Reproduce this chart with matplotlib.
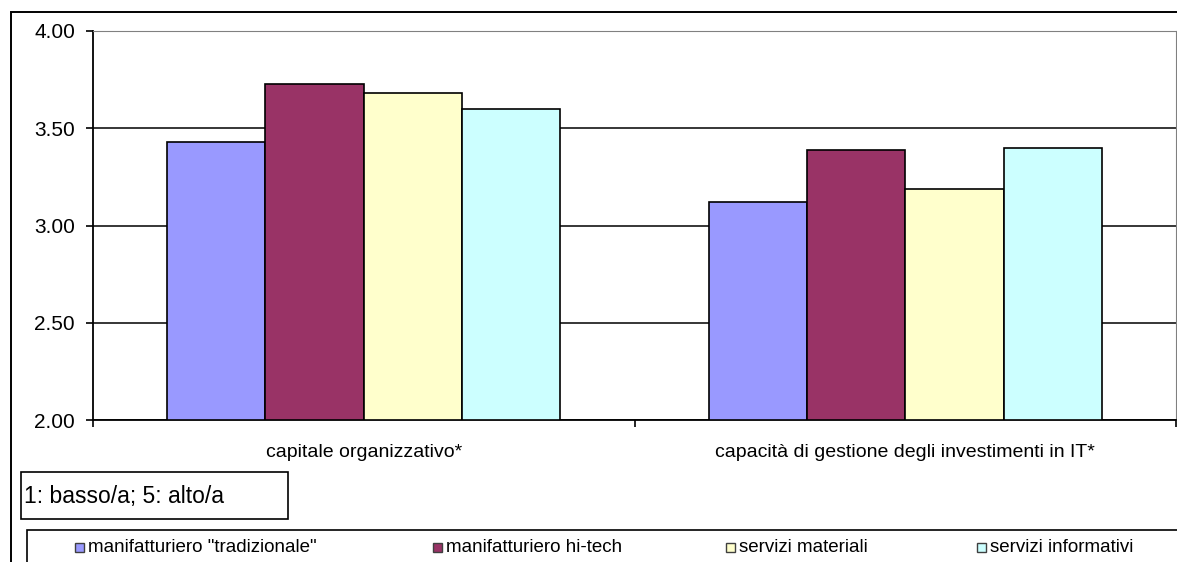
import matplotlib
matplotlib.use('Agg')
import matplotlib.pyplot as plt
from matplotlib.patches import Rectangle
import numpy as np

plt.rcParams['font.family'] = ['Liberation Sans', 'DejaVu Sans']

# dati: punteggio medio (1: basso/a, 5: alto/a)
categorie = ['capitale organizzativo*', 'capacità di gestione degli investimenti in IT*']
settori = ['manifatturiero "tradizionale"', 'manifatturiero hi-tech',
           'servizi materiali', 'servizi informativi']
valori = {
    'manifatturiero "tradizionale"': [3.43, 3.12],
    'manifatturiero hi-tech': [3.73, 3.39],
    'servizi materiali': [3.68, 3.19],
    'servizi informativi': [3.60, 3.40],
}
colori = ['#9999FF', '#993366', '#FFFFCC', '#CCFFFF']
y_ticks = [2.00, 2.50, 3.00, 3.50, 4.00]

W, H = 1177, 562
fig = plt.figure(figsize=(W / 100, H / 100), dpi=100)

def fx(px):
    return px / W

def fy(py):
    return 1 - py / H

ax = fig.add_axes([fx(93), fy(420), fx(1176) - fx(93), fy(31) - fy(420)])

x = np.arange(len(categorie))
w = 0.1815
for i, s in enumerate(settori):
    ax.bar(x + (i - 1.5) * w, np.array(valori[s]) - 2.0, bottom=2.0, width=w,
           color=colori[i], edgecolor='black', linewidth=1.2, align='center', zorder=3)

ax.set_xlim(-0.5, len(categorie) - 0.5)
ax.set_ylim(2.0, 4.0)
ax.set_yticks(y_ticks)
ax.set_yticklabels([f'{v:.2f}' for v in y_ticks], fontsize=15)
ax.yaxis.grid(True, color='black', linewidth=1.1, zorder=0)
ax.set_axisbelow(True)

# tacche ai confini delle categorie, etichette al centro
ax.set_xticks(np.arange(-0.5, len(categorie), 1.0))
ax.set_xticklabels([])
ax.set_xticks(x, minor=True)
ax.set_xticklabels(categorie, minor=True, fontsize=14)
ax.tick_params(axis='x', which='major', direction='out', length=5, width=1.2, color='black')
ax.tick_params(axis='x', which='minor', length=0, pad=17)
ax.tick_params(axis='y', direction='out', length=5, width=1.2, pad=8)

ax.spines['left'].set_linewidth(1.3)
ax.spines['bottom'].set_linewidth(1.3)
ax.spines['top'].set_color('#808080')
ax.spines['right'].set_color('#808080')

# bordo esterno del grafico
fig.patches.append(Rectangle((fx(11), fy(600)), fx(1200) - fx(11), fy(12) - fy(600),
                             transform=fig.transFigure, fill=False,
                             edgecolor='black', linewidth=1.4))

# nota sulla scala
fig.patches.append(Rectangle((fx(21), fy(519)), fx(288) - fx(21), fy(472) - fy(519),
                             transform=fig.transFigure, fill=False,
                             edgecolor='black', linewidth=1.2))
fig.text(fx(24), fy(496), '1: basso/a; 5: alto/a', fontsize=16.5, va='center', ha='left')

# legenda
fig.patches.append(Rectangle((fx(27), fy(600)), fx(1200) - fx(27), fy(530) - fy(600),
                             transform=fig.transFigure, fill=False,
                             edgecolor='black', linewidth=1.2))
leg_x = [75, 433, 726, 977]
for i, s in enumerate(settori):
    fig.patches.append(Rectangle((fx(leg_x[i]), fy(552)), fx(9), 9 / H,
                                 transform=fig.transFigure, facecolor=colori[i],
                                 edgecolor='#404040', linewidth=1.0))
    fig.text(fx(leg_x[i] + 13), fy(548), s, fontsize=13.5, va='center', ha='left')

fig.savefig('out.png', dpi=100)
